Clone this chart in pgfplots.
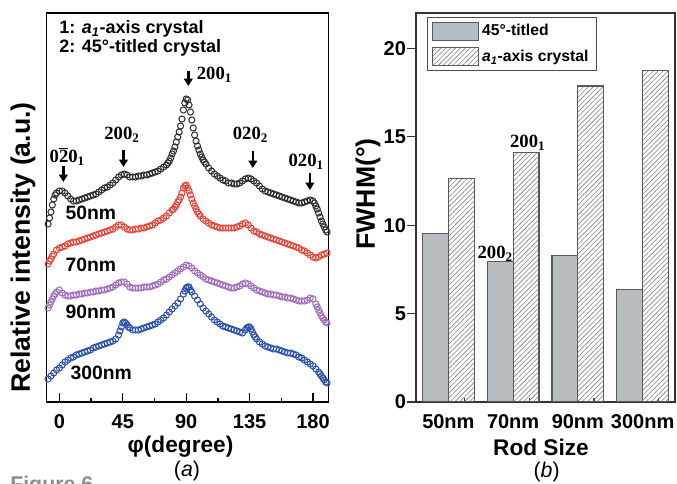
\documentclass[border=0pt]{standalone}
\usepackage{fontspec}
\setmainfont{Liberation Sans}
\newfontfamily\serifb{Liberation Serif}
\usepackage{pgfplots}
\pgfplotsset{compat=1.18}
\usepackage{pgfplotstable}
\usetikzlibrary{arrows.meta,patterns.meta}

\definecolor{cblk}{RGB}{45,45,45}
\definecolor{cred}{RGB}{232,68,55}
\definecolor{cpur}{RGB}{160,108,192}
\definecolor{cblu}{RGB}{40,80,172}
\definecolor{barg}{RGB}{183,188,192}

\newcommand{\pk}[2]{{\serifb\bfseries\fontsize{14}{16}\selectfont #1\textsubscript{#2}}}
\newcommand{\aone}{\textit{a}\textsubscript{\textit{1}}}

% phi (degree) versus relative intensity (plotted downward, a.u.)
\pgfplotstableread[row sep=\\]{x y\\
-8 224\\ -7 218\\ -6 212\\ -5 205\\ -4 199\\ -3 195\\ -2 193\\ 0 191\\ 2 191\\ 4 193\\ 6 196\\ 8 199\\ 10 201\\ 12 201\\ 14 200\\ 16 199\\ 18 198\\ 20 197\\ 22 196\\ 24 195\\ 26 194\\ 28 192\\ 30 190\\ 32 188\\ 34 187\\ 36 185\\ 38 183\\ 40 180\\ 42 177\\ 44 175\\ 46 174\\ 48 175\\ 50 177\\ 52 177\\ 54 177\\ 56 176\\ 58 176\\ 60 175\\ 62 175\\ 64 174\\ 66 173\\ 68 172\\ 70 171\\ 72 169\\ 74 167\\ 76 165\\ 77 163\\ 78 161\\ 79 158\\ 80 154\\ 81 151\\ 82 147\\ 83 142\\ 84 137\\ 85 132\\ 86 126\\ 87 119\\ 88 110\\ 89 103\\ 90 99\\ 91 100\\ 92 105\\ 93 112\\ 94 120\\ 95 128\\ 96 135\\ 97 141\\ 98 146\\ 99 150\\ 100 154\\ 101 157\\ 102 160\\ 103 162\\ 104 164\\ 106 168\\ 108 171\\ 110 174\\ 112 176\\ 114 178\\ 116 180\\ 118 181\\ 120 183\\ 122 183\\ 124 184\\ 126 184\\ 128 183\\ 130 181\\ 132 179\\ 134 178\\ 136 179\\ 138 181\\ 140 183\\ 142 186\\ 144 189\\ 146 191\\ 148 192\\ 150 193\\ 152 194\\ 154 195\\ 156 196\\ 158 197\\ 160 198\\ 162 199\\ 164 200\\ 166 201\\ 168 202\\ 170 203\\ 172 203\\ 174 202\\ 176 201\\ 178 200\\ 180 201\\ 181 203\\ 182 206\\ 183 209\\ 184 213\\ 185 217\\ 186 221\\ 187 224\\ 188 227\\ 189 230\\ 190 232\\
}\dataA
\pgfplotstableread[row sep=\\]{x y\\
-8 264\\ -7 261\\ -6 259\\ -5 256\\ -4 254\\ -2 250\\ 0 248\\ 2 247\\ 4 246\\ 6 244\\ 8 243\\ 10 242\\ 12 242\\ 14 241\\ 16 240\\ 18 239\\ 20 238\\ 22 237\\ 24 236\\ 26 235\\ 28 234\\ 30 233\\ 32 232\\ 34 231\\ 36 230\\ 38 229\\ 40 227\\ 42 225\\ 44 225\\ 46 227\\ 48 229\\ 50 230\\ 52 230\\ 54 229\\ 56 229\\ 58 228\\ 60 228\\ 62 227\\ 64 226\\ 66 225\\ 68 223\\ 70 221\\ 72 220\\ 74 218\\ 76 216\\ 78 213\\ 80 210\\ 81 209\\ 82 207\\ 83 205\\ 84 202\\ 85 200\\ 86 197\\ 87 193\\ 88 188\\ 89 186\\ 90 185\\ 91 188\\ 92 191\\ 93 195\\ 94 199\\ 95 203\\ 96 206\\ 97 209\\ 98 212\\ 99 214\\ 100 216\\ 102 219\\ 104 221\\ 106 223\\ 108 225\\ 110 226\\ 112 227\\ 114 228\\ 116 228\\ 118 228\\ 120 228\\ 122 228\\ 124 228\\ 126 227\\ 128 226\\ 130 224\\ 132 223\\ 134 225\\ 136 228\\ 138 231\\ 140 232\\ 142 234\\ 144 235\\ 146 236\\ 148 237\\ 150 238\\ 152 239\\ 154 240\\ 156 241\\ 158 242\\ 160 243\\ 162 244\\ 164 245\\ 166 246\\ 168 247\\ 170 248\\ 172 250\\ 174 251\\ 176 253\\ 178 255\\ 180 257\\ 182 258\\ 184 257\\ 186 255\\ 188 254\\ 190 253\\
}\dataB
\pgfplotstableread[row sep=\\]{x y\\
-8 308\\ -7 305\\ -6 302\\ -5 299\\ -4 296\\ -3 294\\ -2 292\\ 0 290\\ 2 293\\ 4 295\\ 6 296\\ 8 296\\ 10 295\\ 12 295\\ 14 294\\ 16 294\\ 18 293\\ 20 293\\ 22 292\\ 24 292\\ 26 291\\ 28 291\\ 30 290\\ 32 290\\ 34 289\\ 36 288\\ 38 287\\ 40 285\\ 42 283\\ 44 282\\ 46 282\\ 48 284\\ 50 287\\ 52 288\\ 54 288\\ 56 288\\ 58 288\\ 60 287\\ 62 287\\ 64 287\\ 66 286\\ 68 285\\ 70 284\\ 72 282\\ 74 280\\ 76 279\\ 78 277\\ 80 275\\ 82 273\\ 84 271\\ 86 269\\ 88 267\\ 90 265\\ 92 266\\ 94 268\\ 96 271\\ 98 273\\ 100 275\\ 102 277\\ 104 279\\ 106 280\\ 108 281\\ 110 282\\ 112 283\\ 114 284\\ 116 285\\ 118 286\\ 120 287\\ 122 288\\ 124 288\\ 126 287\\ 128 286\\ 130 284\\ 132 283\\ 134 284\\ 136 286\\ 138 288\\ 140 290\\ 142 291\\ 144 292\\ 146 293\\ 148 294\\ 150 294\\ 152 295\\ 154 295\\ 156 296\\ 158 297\\ 160 297\\ 162 298\\ 164 298\\ 166 299\\ 168 300\\ 170 301\\ 172 301\\ 174 301\\ 176 300\\ 178 298\\ 180 299\\ 182 304\\ 183 307\\ 184 310\\ 185 313\\ 186 316\\ 187 318\\ 188 320\\ 189 322\\ 190 323\\
}\dataC
\pgfplotstableread[row sep=\\]{x y\\
-8 379\\ -6 376\\ -4 373\\ -2 370\\ 0 368\\ 2 365\\ 4 362\\ 6 360\\ 8 358\\ 10 357\\ 12 355\\ 14 354\\ 16 353\\ 18 352\\ 20 351\\ 22 350\\ 24 348\\ 26 347\\ 28 346\\ 30 345\\ 32 344\\ 34 343\\ 36 342\\ 38 341\\ 40 339\\ 42 335\\ 43 331\\ 44 327\\ 45 323\\ 46 322\\ 47 323\\ 48 325\\ 49 327\\ 50 328\\ 52 330\\ 54 330\\ 56 330\\ 58 329\\ 60 328\\ 62 327\\ 64 326\\ 66 325\\ 68 324\\ 70 322\\ 72 320\\ 74 318\\ 76 315\\ 78 312\\ 80 309\\ 82 306\\ 84 303\\ 86 299\\ 88 294\\ 89 291\\ 90 288\\ 91 287\\ 92 287\\ 93 290\\ 94 292\\ 96 296\\ 98 300\\ 100 304\\ 102 308\\ 104 311\\ 106 314\\ 108 317\\ 110 320\\ 112 322\\ 114 324\\ 116 326\\ 118 327\\ 120 328\\ 122 329\\ 124 330\\ 126 331\\ 128 332\\ 130 333\\ 132 330\\ 133 328\\ 134 327\\ 135 327\\ 136 329\\ 137 332\\ 138 335\\ 139 337\\ 140 339\\ 142 342\\ 144 344\\ 146 346\\ 148 347\\ 150 348\\ 152 349\\ 154 349\\ 156 350\\ 158 351\\ 160 352\\ 162 353\\ 164 353\\ 166 354\\ 168 355\\ 170 357\\ 172 358\\ 174 360\\ 176 362\\ 178 364\\ 180 366\\ 182 369\\ 184 372\\ 185 374\\ 186 376\\ 187 378\\ 188 380\\ 189 382\\ 190 383\\
}\dataD

\begin{document}
\begin{tikzpicture}
\path[use as bounding box] (0pt,0pt) rectangle (507.75pt,363pt);

% ---------------- panel (a)
\begin{axis}[at={(35.025pt,61.5pt)}, anchor=south west, scale only axis,
  width=211.35pt, height=291.75pt,
  xmin=-9, xmax=191, ymin=13, ymax=402, y dir=reverse,
  xtick={0,45,90,135,180}, minor xtick={22.5,67.5,112.5,157.5}, ytick=\empty,
  tick align=inside, xtick pos=left, major tick length=6.75pt, minor tick length=3pt,
  tick style={black, line width=1pt}, axis line style={line width=1.1pt},
  /pgf/number format/assume math mode=true,
  xticklabel style={font=\bfseries\fontsize{15}{18}\selectfont, yshift=-6pt},
  every axis plot/.append style={only marks, mark=o, mark size=2.3pt, mark options={line width=0.75pt}},
]
\addplot[cblk] table {\dataA};
\addplot[cred] table {\dataB};
\addplot[cpur] table {\dataC};
\addplot[cblu] table {\dataD};

\node[anchor=west, font=\bfseries\fontsize{13.5}{15}\selectfont] at (axis cs:-3.4,29.3) {1: \aone-axis crystal};
\node[anchor=west, font=\bfseries\fontsize{13.5}{15}\selectfont] at (axis cs:-3.4,47.7) {2: 45°-titled crystal};

\begin{scope}[font=\bfseries\fontsize{14.5}{17}\selectfont]
\node at (axis cs:22.3,213) {50nm};
\node at (axis cs:22.3,265) {70nm};
\node at (axis cs:22.3,311.7) {90nm};
\node at (axis cs:29.7,372.7) {300nm};
\end{scope}

\begin{scope}[-{Triangle[width=6.5pt,length=5.5pt]}, line width=2pt]
\draw (axis cs:2.8,166) -- (axis cs:2.8,182);
\draw (axis cs:45.5,150) -- (axis cs:45.5,167);
\draw (axis cs:91.5,71) -- (axis cs:91.5,86);
\draw (axis cs:137.3,151) -- (axis cs:137.3,168);
\draw (axis cs:177.8,173) -- (axis cs:177.8,190);
\end{scope}
\node at (axis cs:5.6,156.7) {\pk{0$\overline{\mbox{2}}$0}{1}};
\node at (axis cs:44.4,135) {\pk{200}{2}};
\node[anchor=west, inner sep=0pt] at (axis cs:97.4,75) {\pk{200}{1}};
\node at (axis cs:135.6,135) {\pk{020}{2}};
\node at (axis cs:175.2,161.7) {\pk{020}{1}};
\end{axis}

% ---------------- panel (b)
\begin{axis}[at={(312pt,61.5pt)}, anchor=south west, scale only axis,
  width=194.25pt, height=291.75pt,
  xmin=-0.5, xmax=3.5, ymin=0, ymax=22,
  ybar,
  xtick={0,1,2,3}, xticklabels={50nm,70nm,90nm,300nm},
  minor xtick={-0.25,0.25,0.75,1.25,1.75,2.25,2.75,3.25},
  ytick={0,5,10,15,20},
  tick align=inside, xtick pos=left, ytick pos=left,
  major tick length=7pt, minor tick length=3pt,
  every major x tick/.append style={draw=none},
  ytick style={xshift=-7pt},
  tick style={black!80, line width=1pt}, axis line style={black!80, line width=1.1pt},
  /pgf/number format/assume math mode=true,
  xticklabel style={font=\bfseries\fontsize{15}{18}\selectfont, yshift=-6pt},
  yticklabel style={font=\bfseries\fontsize{15}{18}\selectfont, xshift=-4pt},
  legend image code/.code={\draw[#1] (0pt,-6.75pt) rectangle (34.5pt,6.75pt);},
  legend style={at={(axis description cs:0.0436,0.989)}, anchor=north west,
    draw=black!70, line width=0.6pt, font=\bfseries\fontsize{11.8}{13}\selectfont,
    inner xsep=3.5pt, inner ysep=3pt, row sep=5pt, cells={anchor=west}},
]
\addplot[bar width=0.4, bar shift=-0.2, fill=barg, draw=black!65, line width=0.8pt]
  coordinates {(0,9.55) (1,7.93) (2,8.30) (3,6.37)};
\addplot[bar width=0.4, bar shift=0.2, pattern={Lines[angle=45,distance=2.6pt,line width=0.45pt]},
  pattern color=black!50, draw=black!65, line width=0.8pt]
  coordinates {(0,12.65) (1,14.09) (2,17.87) (3,18.76)};
\legend{45°-titled, \aone-axis crystal}
\node at (axis cs:1.225,14.68) {\pk{200}{1}};
\node at (axis cs:0.723,8.4) {\pk{200}{2}};
\end{axis}

% ---------------- titles and labels
\node[rotate=90, font=\bfseries\fontsize{20}{24}\selectfont] at (17.25pt,177.4pt) {Relative intensity (a.u.)};
\node[font=\bfseries\fontsize{17}{20}\selectfont] at (135.4pt,27.75pt) {φ(degree)};
\node[font=\fontsize{16}{19}\selectfont] at (140.25pt,9.5pt) {(\textit{a})};
\node[rotate=90, font=\bfseries\fontsize{20}{24}\selectfont] at (276pt,217.5pt) {FWHM(°)};
\node[font=\bfseries\fontsize{17}{20}\selectfont] at (405.75pt,27.75pt) {Rod Size};
\node[font=\fontsize{16}{19}\selectfont] at (410pt,9pt) {(\textit{b})};
\node[anchor=base west, inner sep=0pt, text=black!45, font=\bfseries\fontsize{16}{19}\selectfont] at (7.5pt,-5.8pt) {Figure 6};
\end{tikzpicture}
\end{document}
